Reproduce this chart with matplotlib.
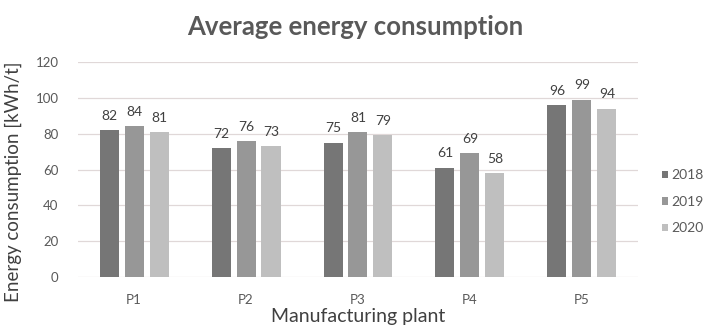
import matplotlib
matplotlib.use("Agg")
import matplotlib.pyplot as plt
import numpy as np

plt.rcParams['font.family'] = ['Lato', 'DejaVu Sans']

plants = ["P1", "P2", "P3", "P4", "P5"]
years = ["2018", "2019", "2020"]
val_2018 = [82, 72, 75, 61, 96]
val_2019 = [84, 76, 81, 69, 99]
val_2020 = [81, 73, 79, 58, 94]
colors = ["#767676", "#979797", "#bfbfbf"]

fig = plt.figure(figsize=(7.04, 3.35), dpi=100)
ax = fig.add_axes([0.111, 0.173, 0.795, 0.642])

x = np.arange(len(plants))
width = 0.17
pitch = 0.223
series = [val_2018, val_2019, val_2020]
for i, vals in enumerate(series):
    pos = x + (i - 1) * pitch
    bars = ax.bar(pos, vals, width, color=colors[i], label=years[i], zorder=3)
    for b, v in zip(bars, vals):
        ax.annotate(str(v), (b.get_x() + b.get_width() / 2, v), xytext=(0, 6),
                    textcoords="offset points", ha="center", va="bottom",
                    fontsize=10, color="#404040", zorder=4)

ax.set_xlim(-0.5, len(plants) - 0.5)
ax.set_ylim(0, 120)
ax.set_yticks(range(0, 121, 20))
ax.set_xticks(x)
ax.set_xticklabels(plants)
ax.tick_params(axis="both", length=0, labelsize=9.5, colors="#595959")
ax.tick_params(axis="y", pad=14)
ax.tick_params(axis="x", pad=12)
ax.grid(axis="y", color="#e0d8d8", linewidth=0.9, zorder=0)
for s in ax.spines.values():
    s.set_visible(False)

ax.set_xlabel("Manufacturing plant", fontsize=14, color="#404040")
ax.xaxis.set_label_coords(0.5, -0.145)
ax.set_ylabel("Energy consumption [kWh/t]", fontsize=13.5, color="#404040")
ax.yaxis.set_label_coords(-0.101, 0.445)
fig.text(0.505, 0.92, "Average energy consumption", ha="center", va="center",
         fontsize=18.5, fontweight="bold", color="#595959")

ax.legend(loc="center left", bbox_to_anchor=(1.02, 0.35), frameon=False, fontsize=10,
          handlelength=0.45, handleheight=0.45, handletextpad=0.25, labelspacing=1.05,
          labelcolor="#595959")

fig.savefig("out.png", dpi=100)
